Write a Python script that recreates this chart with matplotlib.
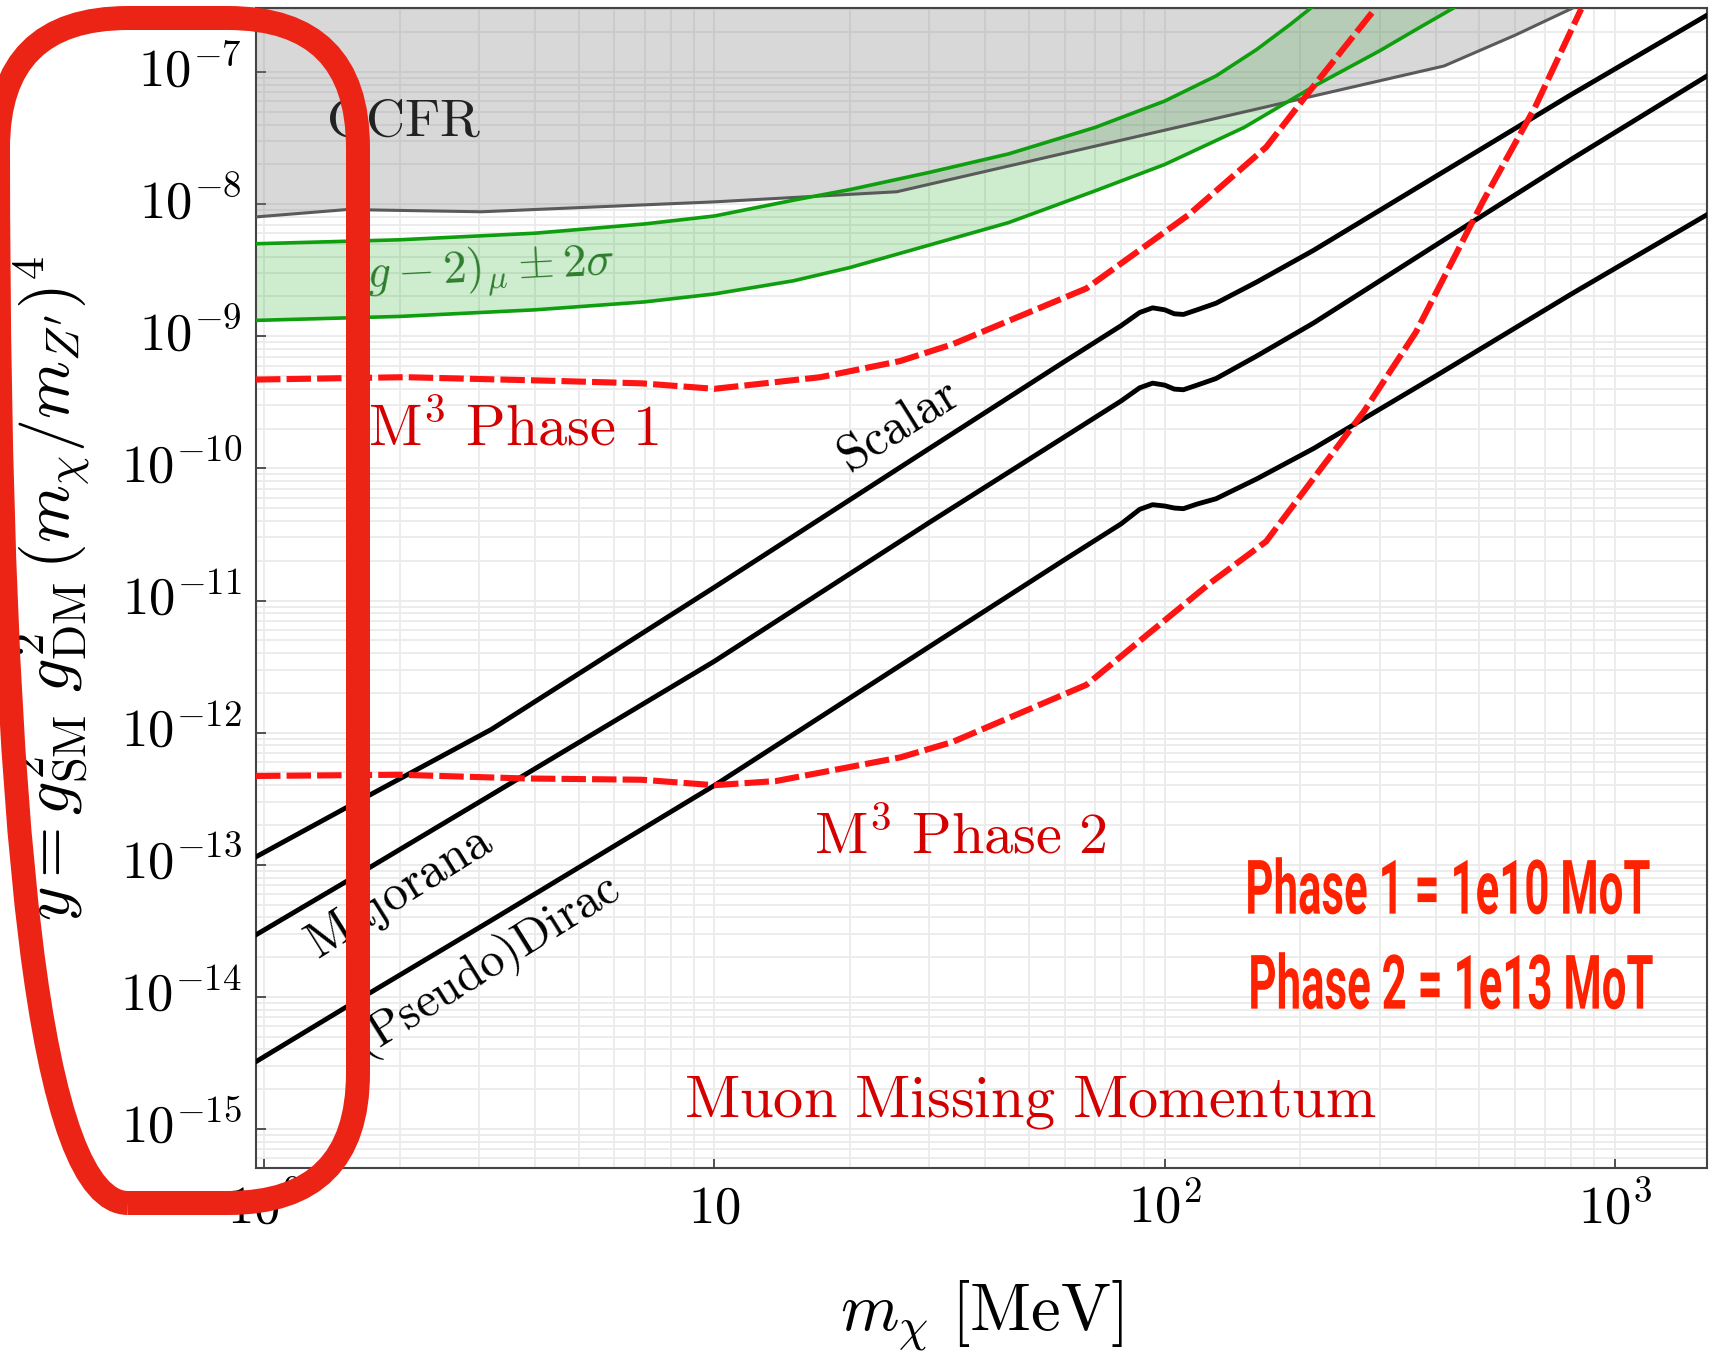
import numpy as np
import matplotlib
matplotlib.use("Agg")
import matplotlib.pyplot as plt
from matplotlib.patches import FancyBboxPatch
from matplotlib.transforms import Affine2D, IdentityTransform, ScaledTranslation
from matplotlib.patheffects import AbstractPathEffect
from matplotlib.ticker import FixedLocator, FixedFormatter, LogLocator, NullFormatter

plt.rcParams["mathtext.fontset"] = "cm"

# ---------------------------------------------------------------- data
# CCFR exclusion boundary (mass in MeV, y)
ccfr_mass = [0.96, 1.53, 3.04, 10, 25.4, 417, 600, 830]
ccfr_y = [8.0e-9, 9.1e-9, 8.75e-9, 1.04e-8, 1.24e-8, 1.11e-7, 1.9e-7, 3.2e-7]

# (g-2)_mu +/- 2 sigma band edges (log10 y)
gm2_up_mass = [0.96, 2, 4, 7, 10, 15, 20, 30, 45, 70, 100, 130, 160, 190, 214, 300]
gm2_up_log_y = [-8.30, -8.27, -8.22, -8.15, -8.09, -7.97, -7.89, -7.76, -7.62, -7.42,
                -7.22, -7.03, -6.83, -6.64, -6.50, -5.90]
gm2_lo_mass = [0.96, 2, 4, 7, 10, 15, 20, 30, 45, 70, 100, 150, 214, 300, 361, 446, 520]
gm2_lo_log_y = [-8.88, -8.85, -8.80, -8.74, -8.68, -8.58, -8.48, -8.31, -8.14, -7.90,
                -7.70, -7.42, -7.11, -6.84, -6.68, -6.50, -6.36]

# M^3 projected sensitivities
ph1_mass = [0.96, 2.06, 4.37, 6.9, 10, 17.2, 25.9, 33.8, 67, 113, 168, 214, 293]
ph1_y = [4.7e-10, 4.9e-10, 4.6e-10, 4.4e-10, 4.0e-10, 4.9e-10, 6.5e-10, 8.7e-10,
         2.3e-9, 8.3e-9, 2.7e-8, 7.8e-8, 3.0e-7]
ph2_mass = [0.96, 2.0, 3.8, 6.9, 10, 13.7, 25.9, 33.8, 67, 92, 126, 168, 277, 361,
            509, 664, 841]
ph2_y = [4.7e-13, 4.8e-13, 4.5e-13, 4.4e-13, 4.0e-13, 4.3e-13, 6.5e-13, 8.5e-13,
         2.3e-12, 5.6e-12, 1.35e-11, 2.8e-11, 2.7e-10, 1.07e-9, 1.05e-8, 5.4e-8, 3.0e-7]

# thermal relic targets (log10 y)
relic_mass = [0.96, 1.5, 3.2, 10, 30, 60, 80, 88, 94, 100, 105, 110, 118, 130, 160,
              214, 400, 800, 1600]
scalar_log_y = [-12.94, -12.58, -11.975, -10.90, -9.85, -9.19, -8.92, -8.82, -8.785,
                -8.80, -8.83, -8.835, -8.80, -8.75, -8.59, -8.35, -7.79, -7.17, -6.57]
majorana_log_y = [-13.53, -13.14, -12.47, -11.46, -10.41, -9.76, -9.49, -9.39, -9.355,
                  -9.37, -9.40, -9.405, -9.37, -9.32, -9.15, -8.90, -8.31, -7.66, -7.03]
dirac_log_y = [-14.49, -14.09, -13.42, -12.40, -11.35, -10.69, -10.42, -10.31, -10.275,
               -10.285, -10.30, -10.305, -10.27, -10.23, -10.08, -9.85, -9.30, -8.68, -8.08]

x_ticks = [1, 10, 100, 1000]
x_tick_labels = [r"$10^{0}$", r"$10$", r"$10^{2}$", r"$10^{3}$"]
y_ticks = [1e-15, 1e-14, 1e-13, 1e-12, 1e-11, 1e-10, 1e-9, 1e-8, 1e-7]
y_tick_labels = [r"$10^{-15}$", r"$10^{-14}$", r"$10^{-13}$", r"$10^{-12}$",
                 r"$10^{-11}$", r"$10^{-10}$", r"$10^{-9}$", r"$10^{-8}$", r"$10^{-7}$"]


class StretchText(AbstractPathEffect):
    """Draw text glyphs scaled by (sx, sy) about a fixed display point."""

    def __init__(self, sx, sy, center):
        super().__init__()
        self._sx, self._sy = sx, sy
        self._cx, self._cy = center

    def draw_path(self, renderer, gc, tpath, affine, rgbFace=None):
        stretch = (Affine2D().translate(-self._cx, -self._cy)
                   .scale(self._sx, self._sy).translate(self._cx, self._cy))
        renderer.draw_path(gc, tpath, affine + stretch, rgbFace)


W, H = 1709, 1353
fig = plt.figure(figsize=(W / 100, H / 100), dpi=100)
ax = fig.add_axes([256 / W, (H - 1168) / H, (1707 - 256) / W, (1168 - 8) / H])
ax.set_xscale("log")
ax.set_yscale("log")
ax.set_xlim(0.96, 1600)
ax.set_ylim(5.07e-16, 3.05e-7)

# grid
ax.set_axisbelow(True)
ax.xaxis.set_minor_locator(LogLocator(base=10, subs=np.arange(2, 10), numticks=50))
ax.yaxis.set_minor_locator(LogLocator(base=10, subs=np.arange(2, 10), numticks=50))
ax.xaxis.set_minor_formatter(NullFormatter())
ax.yaxis.set_minor_formatter(NullFormatter())
ax.grid(which="both", color="#ebebeb", lw=1.3)

# (g-2) band
gm2_up_y = 10 ** np.asarray(gm2_up_log_y)
gm2_lo_y = 10 ** np.asarray(gm2_lo_log_y)
band_x = np.concatenate([gm2_up_mass, gm2_lo_mass[::-1]])
band_y = np.concatenate([gm2_up_y, gm2_lo_y[::-1]])
ax.fill(band_x, band_y, color="#32b432", alpha=0.24, lw=0, zorder=1)

# CCFR excluded region
ax.fill_between(ccfr_mass, ccfr_y, 1e-5, color="#808080", alpha=0.3, lw=0, zorder=2)
ax.plot(ccfr_mass, ccfr_y, color="#5a5a5a", lw=2.2, zorder=3)

ax.plot(gm2_up_mass, gm2_up_y, color="#0e9e0e", lw=2.6, zorder=4)
ax.plot(gm2_lo_mass, gm2_lo_y, color="#0e9e0e", lw=2.6, zorder=4)

for logs in (scalar_log_y, majorana_log_y, dirac_log_y):
    ax.plot(relic_mass, 10 ** np.asarray(logs), color="black", lw=3.5,
            solid_joinstyle="round", zorder=5)

for mass, yy in ((ph1_mass, ph1_y), (ph2_mass, ph2_y)):
    ax.plot(mass, yy, color="#ff1414", lw=4.4, ls=(0, (4.0, 1.0)), zorder=6)

# axes styling
ax.xaxis.set_major_locator(FixedLocator(x_ticks))
ax.xaxis.set_major_formatter(FixedFormatter(x_tick_labels))
ax.yaxis.set_major_locator(FixedLocator(y_ticks))
ax.yaxis.set_major_formatter(FixedFormatter(y_tick_labels))
ax.tick_params(which="major", direction="in", length=7.5, width=1.3, color="#444444",
               labelsize=38, pad=10)
ax.tick_params(which="minor", length=0)
for lab in ax.get_yticklabels():
    lab.set_transform(lab.get_transform() + ScaledTranslation(0, 5 / 72, fig.dpi_scale_trans))
for sp in ax.spines.values():
    sp.set_color("#444444")
    sp.set_linewidth(1.5)

ax.set_xlabel(r"$m_\chi\ [\mathrm{MeV}]$", fontsize=48, labelpad=32)
ax.set_ylabel(r"$y = g_{\mathrm{SM}}^{2}\ g_{\mathrm{DM}}^{2}\,(m_\chi/m_{Z^\prime})^{4}$",
              fontsize=47.5, labelpad=20)

# region / curve annotations
ax.text(2.04, 4.3e-8, r"$\mathrm{CCFR}$", fontsize=39, color="#222222",
        ha="center", va="center", zorder=7)
ax.text(3.05, 3.05e-9, r"$(g-2)_\mu \pm 2\sigma$", fontsize=34, color="#2e7d2e",
        ha="center", va="center", rotation=3, zorder=7)
ax.text(3.58, 1.96e-10, r"$\mathrm{M^3\ Phase\ 1}$", fontsize=42, color="#d40000",
        ha="center", va="center", zorder=7)
ax.text(35.2, 1.62e-13, r"$\mathrm{M^3\ Phase\ 2}$", fontsize=42, color="#d40000",
        ha="center", va="center", zorder=7)
ax.text(50.2, 1.62e-15, r"$\mathrm{Muon\ Missing\ Momentum}$", fontsize=43.5,
        color="#d40000", ha="center", va="center", zorder=7)
ax.text(25.7, 2.1e-10, r"$\mathrm{Scalar}$", fontsize=36, rotation=32,
        ha="center", va="center", rotation_mode="anchor", zorder=7)
ax.text(2.01, 6.1e-14, r"$\mathrm{Majorana}$", fontsize=36, rotation=32,
        ha="center", va="center", rotation_mode="anchor", zorder=7)
ax.text(3.12, 1.7e-14, r"$\mathrm{(Pseudo)Dirac}$", fontsize=35, rotation=32,
        ha="center", va="center", rotation_mode="anchor", zorder=7)

# exposure notes, set tall and narrow
for label, (cx, cy) in (("Phase 1 = 1e10 MoT", (1448, 893)),
                        ("Phase 2 = 1e13 MoT", (1451, 988))):
    fig.text(cx / W, (H - cy) / H, label, fontsize=31.5, family="Roboto",
             weight="bold", color="#ff2200", ha="center", va="center",
             path_effects=[StretchText(1.0, 1.72, (cx, H - cy))], zorder=8)

# highlight frame around the vertical axis
frame = FancyBboxPatch((-2, H - 1203), 360, 1185,
                       boxstyle="round,pad=0,rounding_size=130",
                       transform=IdentityTransform(), fill=False,
                       ec="#ec2415", lw=24 * 0.72, zorder=20, clip_on=False)
fig.add_artist(frame)

fig.savefig("out.png", dpi=100)
